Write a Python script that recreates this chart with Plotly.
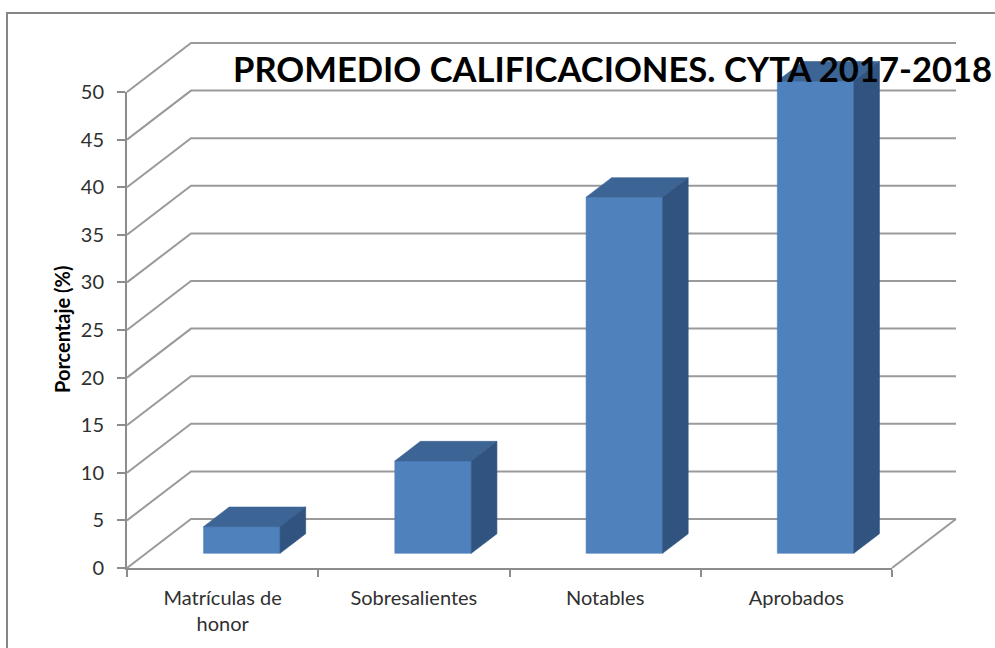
import plotly.graph_objects as go

# ---------------- data ----------------
categories = ["Matrículas de<br>honor", "Sobresalientes", "Notables", "Aprobados"]
values = [2.8, 9.7, 37.4, 49.6]
y_ticks = [0, 5, 10, 15, 20, 25, 30, 35, 40, 45, 50]
title_text = "PROMEDIO CALIFICACIONES. CYTA 2017-2018"
y_title = "Porcentaje (%)"

# ---------------- geometry (pixels) ----------------
W, H = 995, 648
ML, MR, MT, MB = 100, 5, 5, 60
PX0, PX1 = ML, W - MR
PY_TOP, PY_BOT = MT, H - MB
AX_LEFT, AX_RIGHT = 127, 892      # front category axis
AX_BOTTOM, AX_TOP = 568, 92       # front value axis (0 and max)
DEPTH_DX, DEPTH_DY = 64, 49       # back wall offset
n = len(categories)
ymax = y_ticks[-1]
px_per_cat = (AX_RIGHT - AX_LEFT) / n
px_per_unit = (AX_BOTTOM - AX_TOP) / ymax
DX = DEPTH_DX / px_per_cat
DY = DEPTH_DY / px_per_unit
BAR_HALF = 0.5 / (1 + 1.5)        # gap width 150%
D_FRONT, D_BACK = 0.3, 0.7        # bar depth span


def px2paperx(p):
    return (p - PX0) / (PX1 - PX0)


def px2papery(p):
    return (PY_BOT - p) / (PY_BOT - PY_TOP)


def P(x, v, d):
    return x + d * DX, v + d * DY


GRID = "#9a9a9a"
AXIS = "#8c8c8c"
FRONT = "#4F81BD"
TOP = "#3C6494"
SIDE = "#31537F"
FONT = "Lato"

fig = go.Figure()

# anchor trace for the category/value axes
fig.add_trace(go.Scatter(x=categories, y=values, mode="markers",
                         marker=dict(opacity=0), hoverinfo="skip",
                         showlegend=False, xaxis="x", yaxis="y"))

# walls gridlines
gx, gy = [], []
for t in y_ticks:
    for pt in (P(0, t, 0), P(0, t, 1), P(n, t, 1)):
        gx.append(pt[0]); gy.append(pt[1])
    gx.append(None); gy.append(None)
for pt in (P(n, 0, 0), P(n, 0, 1)):
    gx.append(pt[0]); gy.append(pt[1])
fig.add_trace(go.Scatter(x=gx, y=gy, mode="lines",
                         line=dict(color=GRID, width=2),
                         hoverinfo="skip", showlegend=False,
                         xaxis="x2", yaxis="y2"))


def face(pts, color):
    xs = [p[0] for p in pts] + [pts[0][0]]
    ys = [p[1] for p in pts] + [pts[0][1]]
    fig.add_trace(go.Scatter(x=xs, y=ys, mode="lines", fill="toself",
                             fillcolor=color, line=dict(color=color, width=0.6),
                             hoverinfo="skip", showlegend=False,
                             xaxis="x2", yaxis="y2"))


for i, v in enumerate(values):
    c = i + 0.5
    xl, xr = c - BAR_HALF, c + BAR_HALF
    face([P(xl, 0, D_FRONT), P(xr, 0, D_FRONT), P(xr, v, D_FRONT), P(xl, v, D_FRONT)], FRONT)
    face([P(xl, v, D_FRONT), P(xr, v, D_FRONT), P(xr, v, D_BACK), P(xl, v, D_BACK)], TOP)
    face([P(xr, 0, D_FRONT), P(xr, 0, D_BACK), P(xr, v, D_BACK), P(xr, v, D_FRONT)], SIDE)

fig.update_layout(
    width=W, height=H,
    margin=dict(l=ML, r=MR, t=MT, b=MB, autoexpand=False),
    paper_bgcolor="white", plot_bgcolor="rgba(0,0,0,0)",
    showlegend=False,
    xaxis=dict(type="category", categoryorder="array", categoryarray=categories,
               range=[-0.5, n - 0.5],
               domain=[px2paperx(AX_LEFT), px2paperx(AX_RIGHT)],
               anchor="y", tickson="boundaries", ticks="outside",
               ticklen=7, tickwidth=2, tickcolor=AXIS,
               showline=True, linecolor=AXIS, linewidth=2,
               showgrid=False, zeroline=False, fixedrange=True, automargin=False,
               tickfont=dict(family=FONT, size=20, color="#303030"),
               ticklabelstandoff=11),
    yaxis=dict(range=[0, ymax],
               domain=[px2papery(AX_BOTTOM), px2papery(AX_TOP)],
               anchor="x", tickvals=y_ticks, ticks="outside",
               ticklen=8, tickwidth=2, tickcolor=AXIS,
               showline=True, linecolor=AXIS, linewidth=2,
               showgrid=False, zeroline=False, fixedrange=True, automargin=False,
               tickfont=dict(family=FONT, size=20, color="#303030"),
               ticklabelstandoff=9),
    xaxis2=dict(range=[(PX0 - AX_LEFT) / px_per_cat, (PX1 - AX_LEFT) / px_per_cat],
                domain=[0, 1], anchor="y2", visible=False, fixedrange=True),
    yaxis2=dict(range=[(AX_BOTTOM - PY_BOT) / px_per_unit, (AX_BOTTOM - PY_TOP) / px_per_unit],
                domain=[0, 1], anchor="x2", visible=False, fixedrange=True),
    annotations=[
        dict(text="<b>" + title_text + "</b>", xref="paper", yref="paper",
             x=px2paperx(612), y=px2papery(68), xanchor="center", yanchor="middle",
             showarrow=False, font=dict(family=FONT, size=34.6, color="black")),
        dict(text="<b>" + y_title + "</b>", xref="paper", yref="y",
             x=px2paperx(62), y=ymax / 2, xanchor="center", yanchor="middle",
             textangle=-90, showarrow=False,
             font=dict(family=FONT, size=20, color="black")),
    ],
    shapes=[dict(type="rect", xref="paper", yref="paper",
                 x0=px2paperx(7), x1=px2paperx(1010),
                 y0=px2papery(670), y1=px2papery(13),
                 line=dict(color="#868686", width=2), fillcolor="rgba(0,0,0,0)")],
)

fig.write_html("out.html", config={"displayModeBar": False},
               post_script="document.body.style.margin='0';document.body.style.overflow='hidden';")
